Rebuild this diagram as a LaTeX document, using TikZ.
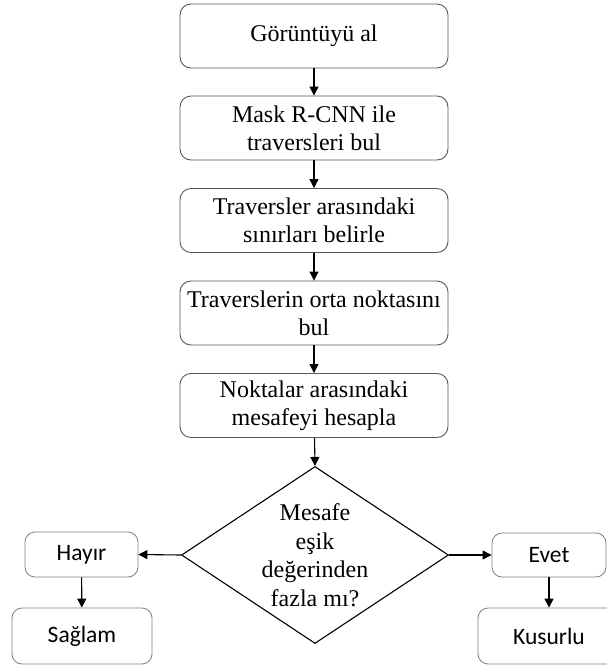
\documentclass[tikz,border=0pt]{standalone}
\usepackage{fontspec}
\setmainfont{Liberation Serif}
\newfontfamily\calfont{Carlito}
\usetikzlibrary{shapes.geometric,arrows.meta}
\begin{document}
\begin{tikzpicture}[x=1pt,y=-1pt,
  stepbox/.style={draw=black!65,line width=0.9pt,rounded corners=11pt,minimum width=268pt,minimum height=64pt,align=center,inner sep=0pt,font=\fontsize{24}{28}\selectfont},
  resbox/.style={draw=black!50,line width=0.8pt,rounded corners=10pt,align=center,inner sep=0pt,font=\calfont\fontsize{23.5}{28}\selectfont},
  decision/.style={draw=black,line width=1.1pt,diamond,minimum width=267pt,minimum height=177pt,inner sep=0pt,align=center,font=\fontsize{24}{28}\selectfont},
  arr/.style={draw=black,line width=1.1pt,-{Triangle[length=9pt,width=9pt]}}]
\useasboundingbox[fill=white] (0,0) rectangle (607,665);
\clip (0,0) rectangle (607,665);
\node[stepbox] (s1) at (314,36) {Görüntüyü al};
\node[stepbox] (s2) at (314,128) {Mask R-CNN ile\\traversleri bul};
\node[stepbox] (s3) at (314,220.5) {Traversler arasındaki\\sınırları belirle};
\node[stepbox] (s4) at (314,313) {Traverslerin orta noktasını\\bul};
\node[stepbox] (s5) at (314,405.5) {Noktalar arasındaki\\mesafeyi hesapla};
\node[decision] (d) at (315,555) {};
\node[align=center,font=\fontsize{24}{28.5}\selectfont] (dt) at (315,555) {Mesafe\\eşik\\değerinden\\fazla mı?};
\node[resbox,minimum width=113pt,minimum height=45pt] (h) at (81.5,554.5) {Hayır};
\node[resbox,minimum width=140pt,minimum height=56pt] (sa) at (82,636) {Sağlam};
\node[resbox,minimum width=114pt,minimum height=44pt] (e) at (549,555) {Evet};
\node[resbox,minimum width=142pt,minimum height=56pt] (k) at (549,636) {Kusurlu};
\draw[arr] (s1) -- (s2);
\draw[arr] (s2) -- (s3);
\draw[arr] (s3) -- (s4);
\draw[arr] (s4) -- (s5);
\draw[arr] (s5) -- (d.north);
\draw[arr] (d.west) -- (h.east);
\draw[arr] (d.east) -- (e.west);
\draw[arr] (h) -- (sa);
\draw[arr] (e) -- (k);
\end{tikzpicture}
\end{document}
